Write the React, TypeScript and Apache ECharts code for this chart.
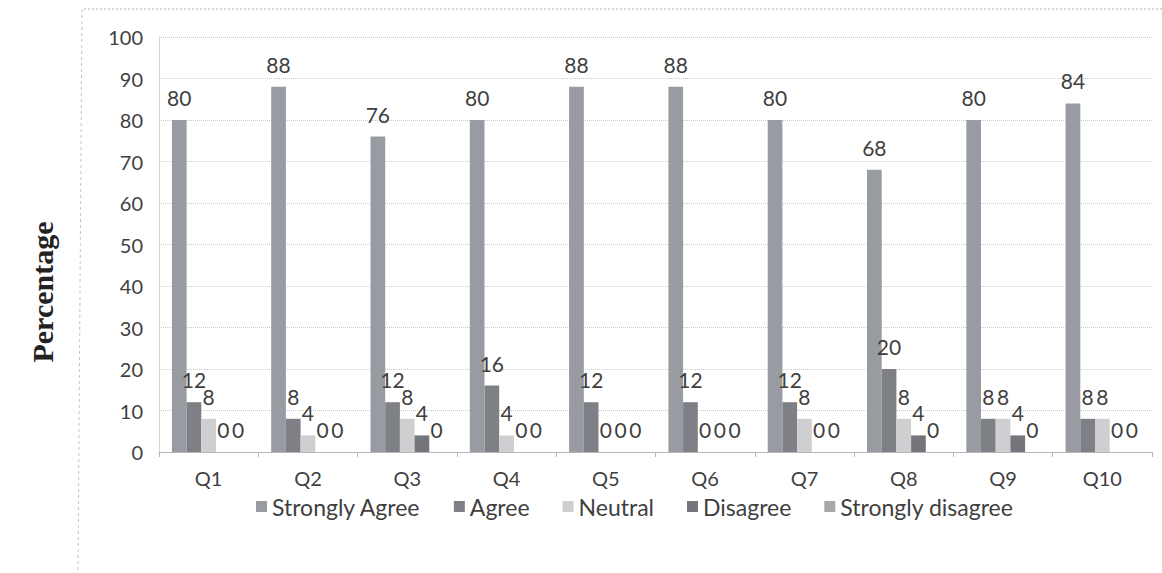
import React, { useEffect, useRef } from "react";
import * as echarts from "echarts";

const categories = ["Q1", "Q2", "Q3", "Q4", "Q5", "Q6", "Q7", "Q8", "Q9", "Q10"];
const stronglyAgree = [80, 88, 76, 80, 88, 88, 80, 68, 80, 84];
const agree = [12, 8, 12, 16, 12, 12, 12, 20, 8, 8];
const neutral = [8, 4, 8, 4, 0, 0, 8, 8, 8, 8];
const disagree = [0, 0, 4, 0, 0, 0, 0, 4, 4, 0];
const stronglyDisagree = [0, 0, 0, 0, 0, 0, 0, 0, 0, 0];

const seriesDefs = [
  { name: "Strongly Agree", data: stronglyAgree, color: "#989ba2" },
  { name: "Agree", data: agree, color: "#7e8086" },
  { name: "Neutral", data: neutral, color: "#cfcfd1" },
  { name: "Disagree", data: disagree, color: "#75767b" },
  { name: "Strongly disagree", data: stronglyDisagree, color: "#a7a7aa" },
];

const FONT = "Lato";
const TEXT = "#3f3f3f";

export default function App() {
  const ref = useRef<HTMLDivElement>(null);
  useEffect(() => {
    if (!ref.current) return;
    const chart = echarts.init(ref.current, undefined, { renderer: "svg" });
    chart.setOption({
      animation: false,
      backgroundColor: "#ffffff",
      grid: { left: 159, right: 10, top: 37, bottom: 121 },
      legend: {
        left: 251,
        top: 490,
        itemWidth: 11,
        itemHeight: 11,
        itemGap: 33,
        icon: "rect",
        textStyle: { fontFamily: FONT, fontSize: 23, color: TEXT },
        data: seriesDefs.map((s) => s.name),
      },
      xAxis: {
        type: "category",
        data: categories,
        axisLine: { show: true, lineStyle: { color: "#b5b5b5", width: 1 } },
        axisTick: { show: true, length: 5, lineStyle: { color: "#b5b5b5" } },
        axisLabel: { fontFamily: FONT, fontSize: 20, color: TEXT, margin: 16 },
      },
      yAxis: {
        type: "value",
        min: 0,
        max: 100,
        interval: 10,
        axisLine: { show: true, lineStyle: { color: "#cfcfcf", type: "dotted" } },
        axisTick: { show: false },
        splitLine: { show: true, lineStyle: { color: "#c8c8c8", type: "dotted" } },
        axisLabel: { fontFamily: FONT, fontSize: 20, color: TEXT, margin: 16 },
      },
      series: seriesDefs.map((s) => ({
        name: s.name,
        type: "bar",
        data: s.data,
        barGap: "0%",
        barCategoryGap: "26%",
        itemStyle: { color: s.color },
        label: {
          show: true,
          position: "top",
          distance: 12,
          fontFamily: FONT,
          fontSize: 21,
          color: TEXT,
        },
      })),
      graphic: [
        {
          type: "line",
          shape: { x1: 84, y1: 9, x2: 1162, y2: 9 },
          style: { stroke: "#b0b0b0", lineWidth: 1, lineDash: [2, 2] },
        },
        {
          type: "line",
          shape: { x1: 82, y1: 9, x2: 78, y2: 573 },
          style: { stroke: "#c4c4c4", lineWidth: 1, lineDash: [3, 3] },
        },
        {
          type: "text",
          x: 42,
          y: 292,
          rotation: Math.PI / 2,
          style: {
            text: "Percentage",
            font: 'bold 30px "Liberation Serif"',
            fill: "#222",
            textAlign: "center",
            textVerticalAlign: "middle",
          },
        },
      ],
    });
    return () => chart.dispose();
  }, []);
  return (
    <div
      ref={ref}
      style={{ position: "fixed", left: 0, top: 0, width: 1162, height: 573 }}
    />
  );
}
